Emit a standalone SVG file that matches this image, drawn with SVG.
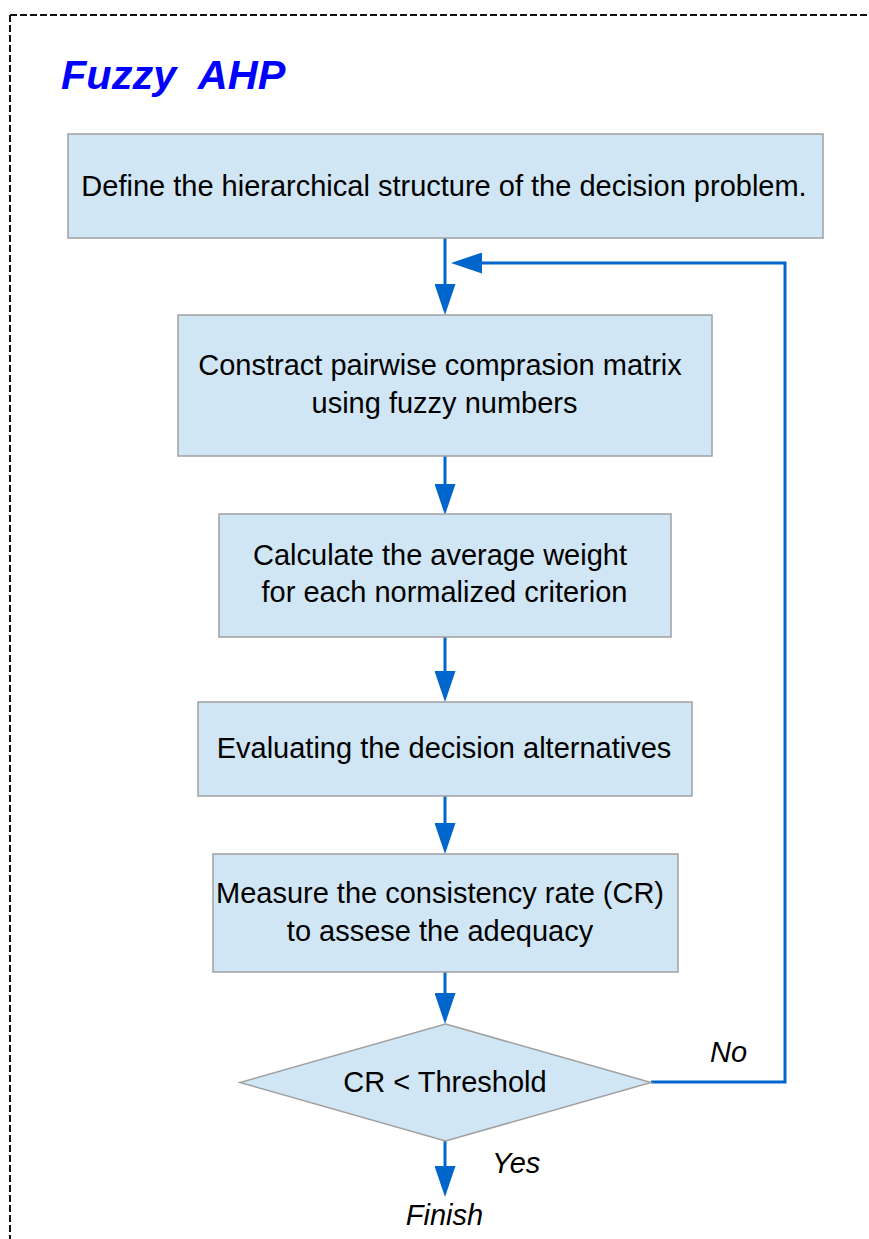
<svg xmlns="http://www.w3.org/2000/svg" width="869" height="1239" viewBox="0 0 869 1239">
<style>
.box{fill:#D0E6F4;stroke:#A0A0A0;stroke-width:1.5}
.t{font-family:"Liberation Sans",Arial,sans-serif;font-size:29px;fill:#000;text-anchor:middle}
.lbl{font-family:"Liberation Sans",Arial,sans-serif;font-size:29px;font-style:italic;fill:#000}
.con{fill:none;stroke:#0066CC;stroke-width:3;marker-end:url(#ah)}
</style>
<defs>
<marker id="ah" markerUnits="userSpaceOnUse" markerWidth="31" markerHeight="21" refX="23" refY="10.5" orient="auto" viewBox="0 0 31 21">
<path d="M0,0 L31,10.5 L0,21 Z" fill="#0066CC"/>
</marker>
</defs>
<rect width="869" height="1239" fill="#fff"/>
<g id="frame">
<path d="M10,15 H869 M10,15 V1239" fill="none" stroke="#111" stroke-width="2" stroke-dasharray="7 3"/>
<text x="61" y="89" font-family="Liberation Sans,Arial,sans-serif" font-size="41.5" font-weight="bold" font-style="italic" fill="#0000FF" xml:space="preserve">Fuzzy  AHP</text>
</g>
<g id="connectors">
<path class="con" d="M445,238 V307"/>
<path class="con" d="M445,456 V507"/>
<path class="con" d="M445,637 V694"/>
<path class="con" d="M445,796 V846"/>
<path class="con" d="M445,972 V1016"/>
<path class="con" d="M445,1141 V1189"/>
<path class="con" d="M651,1082 H785 V263 H459"/>
</g>
<g id="n1">
<rect class="box" x="68" y="134" width="755" height="104"/>
<text class="t" x="444" y="196">Define the hierarchical structure of the decision problem.</text>
</g>
<g id="n2">
<rect class="box" x="178" y="315" width="534" height="141"/>
<text class="t" x="440" y="375">Constract pairwise comprasion matrix</text>
<text class="t" x="444.5" y="413">using fuzzy numbers</text>
</g>
<g id="n3">
<rect class="box" x="219" y="514" width="452" height="123"/>
<text class="t" x="440" y="565">Calculate the average weight</text>
<text class="t" x="444.5" y="602">for each normalized criterion</text>
</g>
<g id="n4">
<rect class="box" x="198" y="702" width="494" height="94"/>
<text class="t" x="444" y="758">Evaluating the decision alternatives</text>
</g>
<g id="n5">
<rect class="box" x="213" y="854" width="465" height="118"/>
<text class="t" x="440" y="903">Measure the consistency rate (CR)</text>
<text class="t" x="440" y="941">to assese the adequacy</text>
</g>
<g id="n6">
<polygon class="box" points="445.5,1024 651,1082.5 445.5,1141 240,1082.5"/>
<text class="t" x="445" y="1092">CR &lt; Threshold</text>
</g>
<g id="labels">
<text class="lbl" x="710" y="1062">No</text>
<text class="lbl" x="492" y="1173">Yes</text>
<text class="lbl" x="444.5" y="1225" text-anchor="middle">Finish</text>
</g>
</svg>
